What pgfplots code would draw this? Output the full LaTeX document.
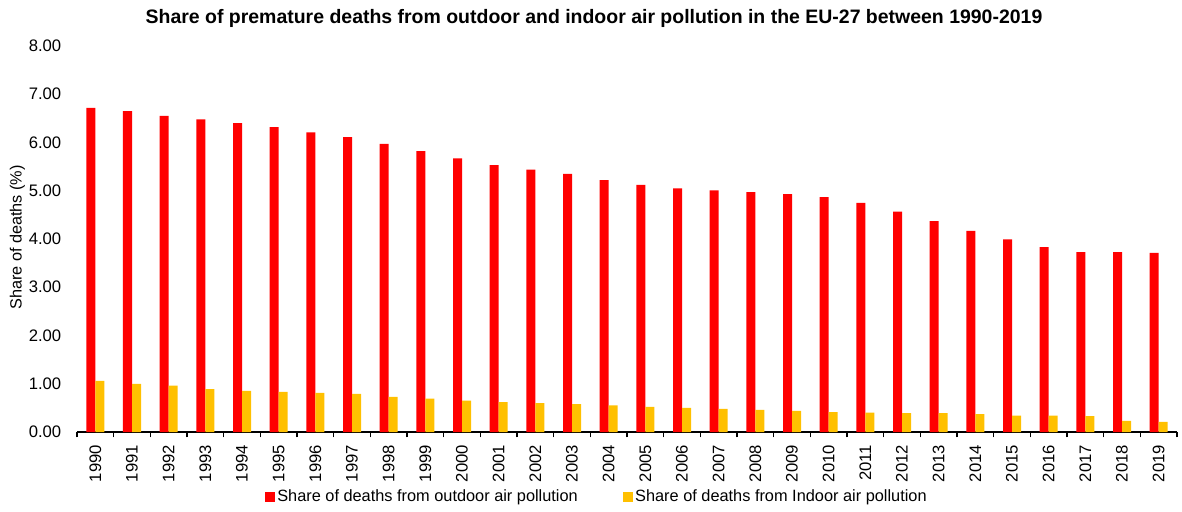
\documentclass[border=0pt]{standalone}
\usepackage{pgfplots}
\pgfplotsset{compat=1.18}
\usepackage{fontspec}
\setmainfont{Liberation Sans}
\definecolor{cred}{HTML}{FF0000}
\definecolor{cyel}{HTML}{FFC000}
\pgfplotstableread{
x out in
0 6.72 1.06
1 6.65 1.00
2 6.55 0.96
3 6.48 0.89
4 6.40 0.85
5 6.32 0.83
6 6.21 0.81
7 6.11 0.79
8 5.97 0.73
9 5.82 0.69
10 5.67 0.65
11 5.53 0.62
12 5.44 0.60
13 5.35 0.58
14 5.22 0.55
15 5.12 0.52
16 5.05 0.50
17 5.01 0.48
18 4.97 0.46
19 4.93 0.44
20 4.87 0.41
21 4.75 0.40
22 4.57 0.39
23 4.37 0.39
24 4.17 0.37
25 3.99 0.34
26 3.83 0.34
27 3.73 0.33
28 3.73 0.23
29 3.71 0.21
}\datatable
\begin{document}
\begin{tikzpicture}
\begin{axis}[
  at={(0,0)}, anchor=south west,
  scale only axis,
  width=825pt, height=289.5pt,
  ybar=0pt, bar width=6.75pt,
  xmin=-0.5, xmax=29.5,
  ymin=0, ymax=8,
  ytick={0,1,...,8},
  yticklabel={\pgfmathprintnumber[fixed,fixed zerofill,precision=2]{\tick}},
  /pgf/number format/assume math mode=true,
  axis x line=bottom, axis y line=left,
  x axis line style={line width=1.5pt,-},
  y axis line style={draw=none},
  ytick style={draw=none},
  xtick={0,...,29},
  xticklabels={1990,1991,1992,1993,1994,1995,1996,1997,1998,1999,2000,2001,2002,2003,2004,2005,2006,2007,2008,2009,2010,2011,2012,2013,2014,2015,2016,2017,2018,2019},
  major x tick style={draw=none},
  minor xtick={-0.5,0.5,...,29.5},
  minor x tick style={line width=1pt,black},
  minor tick length=4pt,
  tick align=outside,
  xticklabel style={rotate=90, anchor=east, font=\fontsize{12.5}{14}\selectfont},
  yticklabel style={font=\fontsize{12.5}{14}\selectfont},
  yticklabel shift=4pt,
  xticklabel shift=2pt,
  ylabel={Share of deaths (\%)},
  ylabel style={at={(axis description cs:-0.0541,0.504)}, anchor=center, font=\fontsize{12.2}{14}\selectfont},
  title={\textbf{Share of premature deaths from outdoor and indoor air pollution in the EU-27 between 1990-2019}},
  title style={at={(axis description cs:0.47,1)}, anchor=center, yshift=15pt, font=\fontsize{14.6}{16}\selectfont},
  legend style={at={(axis description cs:0.473,0)}, anchor=center, yshift=-48.75pt, draw=none, font=\fontsize{12.25}{14}\selectfont, /tikz/every even column/.append style={column sep=32pt}},
  legend columns=2,
  legend image code/.code={\fill[#1] (0pt,-3.4pt) rectangle (7pt,3.6pt);},
  enlarge x limits=false,
]
\addplot[draw=none, fill=cred] table[x=x,y=out]{\datatable};
\addplot[draw=none, fill=cyel] table[x=x,y=in]{\datatable};
\legend{Share of deaths from outdoor air pollution, Share of deaths from Indoor air pollution}
\end{axis}
\pgfresetboundingbox
\path[use as bounding box] (-57.75pt,-59.25pt) rectangle (828.75pt,324pt);
\end{tikzpicture}
\end{document}
